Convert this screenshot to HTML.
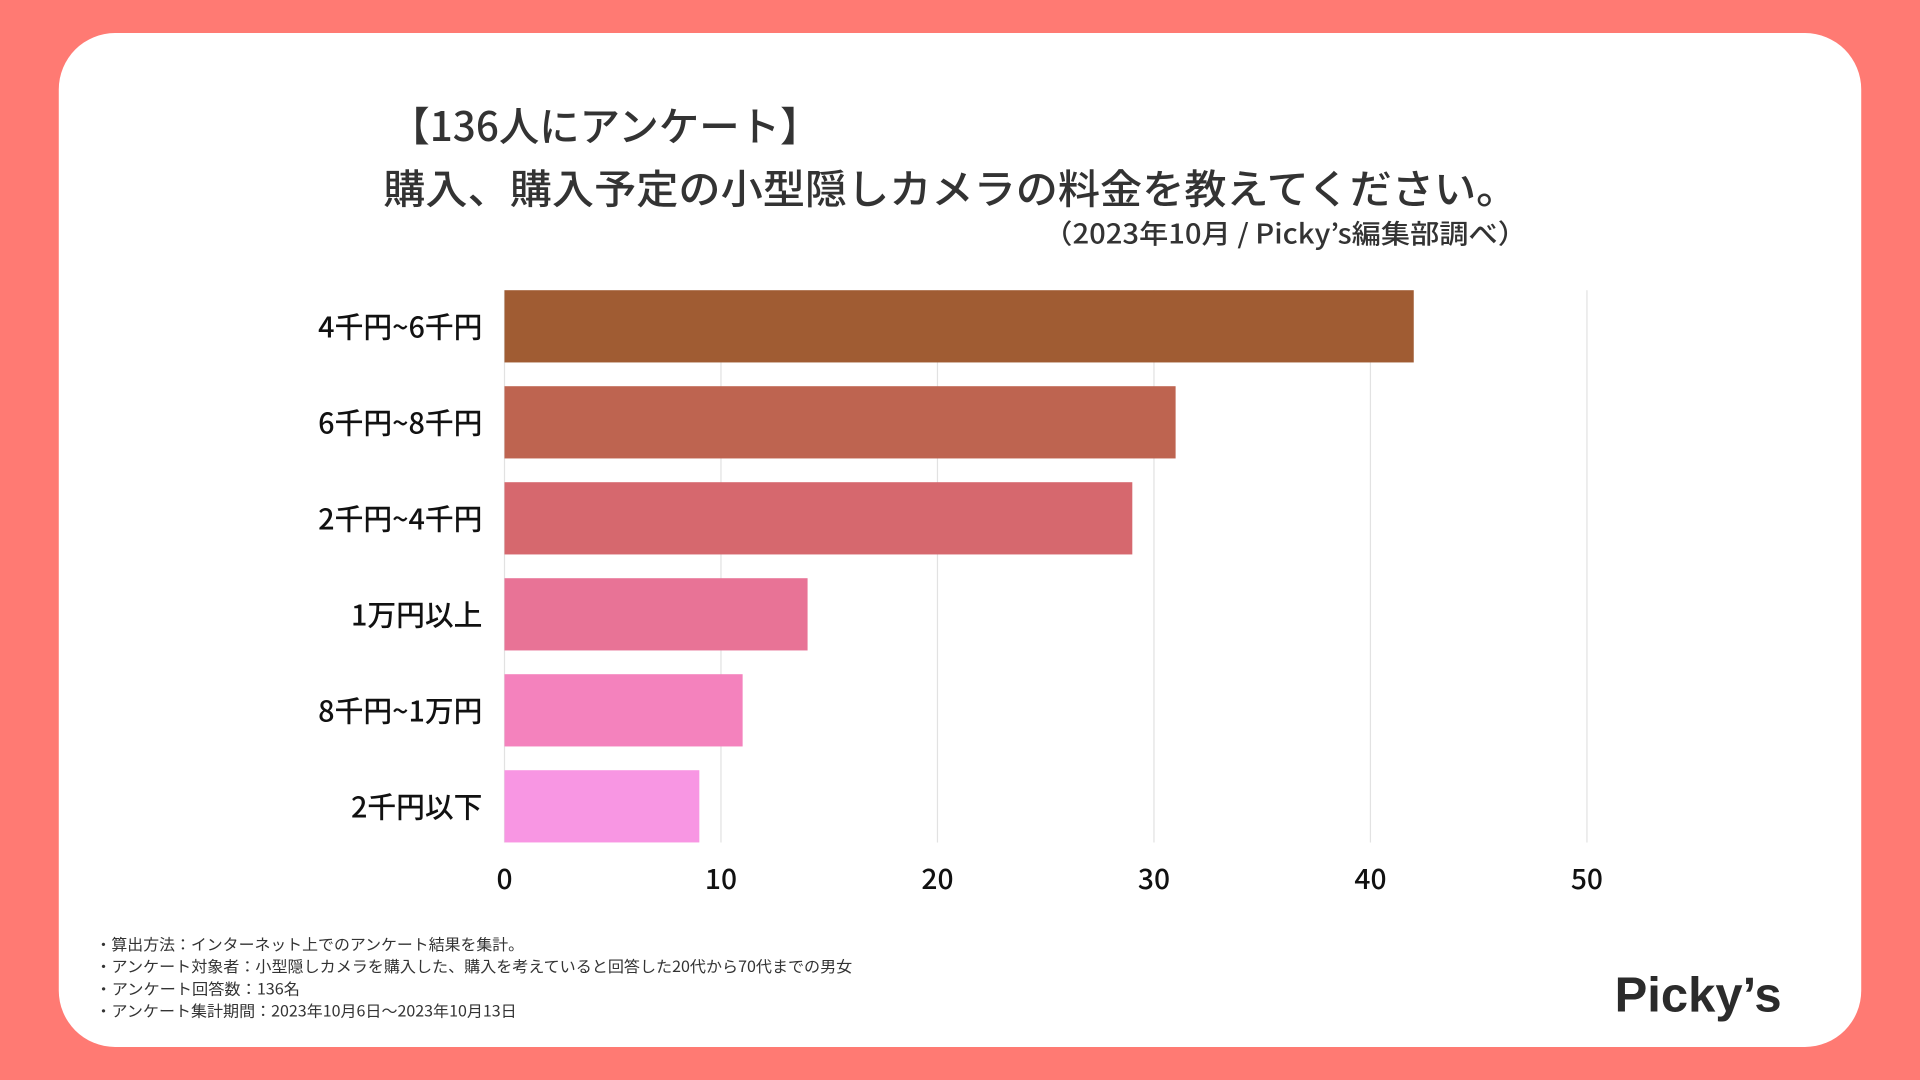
<!DOCTYPE html>
<html><head><meta charset="utf-8"><style>
html,body{margin:0;padding:0;width:1920px;height:1080px;overflow:hidden;background:#FF7A73;}
svg{display:block;font-family:"Noto Sans CJK JP","Liberation Sans",sans-serif;}
</style></head><body>
<svg id="chart" width="1920" height="1080" viewBox="0 0 1568 882">
<rect x="0" y="0" width="1568" height="882" fill="#FF7A73"/>
<rect x="48" y="27" width="1472" height="828" rx="46" fill="#fff"/>
<text x="318" y="115" font-size="33" font-weight="500" fill="#333" textLength="352" lengthAdjust="spacingAndGlyphs">【136人にアンケート】</text>
<text x="313" y="166" font-size="33" font-weight="500" fill="#333" textLength="927" lengthAdjust="spacingAndGlyphs">購入、購入予定の小型隠しカメラの料金を教えてください。</text>
<text x="852" y="199" font-size="22" font-weight="500" fill="#333" textLength="395" lengthAdjust="spacingAndGlyphs">（2023年10月 / Picky’s編集部調べ）</text>
<g id="grid"></g>
<g id="bars"></g>
<g id="labels"></g>
<g id="ticks"></g>
<g font-size="12.5" fill="#333">
<text x="78" y="776" textLength="350" lengthAdjust="spacingAndGlyphs">・算出方法：インターネット上でのアンケート結果を集計。</text>
<text x="78" y="794" textLength="618" lengthAdjust="spacingAndGlyphs">・アンケート対象者：小型隠しカメラを購入した、購入を考えていると回答した20代から70代までの男女</text>
<text x="78" y="812" textLength="167" lengthAdjust="spacingAndGlyphs">・アンケート回答数：136名</text>
<text x="78" y="830" textLength="344" lengthAdjust="spacingAndGlyphs">・アンケート集計期間：2023年10月6日〜2023年10月13日</text>
</g>
<text x="1455" y="826" font-size="40" font-weight="bold" fill="#2b2b2b" text-anchor="end" font-family="Liberation Sans, sans-serif">Picky’s</text>
</svg>
<script>
const categories=["4千円~6千円","6千円~8千円","2千円~4千円","1万円以上","8千円~1万円","2千円以下"];
const values=[42,31,29,14,11,9];
const tickValues=[0,10,20,30,40,50];
const colors=["#A05C33","#BE6450","#D6686E","#E87396","#F482BD","#F896E3"];
const NS="http://www.w3.org/2000/svg";
const x0=412,x1=1296,xmax=50,yTop=237,band=78.4,barH=59;
const xs=v=>x0+(x1-x0)*v/xmax;
const yb=i=>yTop+i*band;
function mk(t,a,p){const e=document.createElementNS(NS,t);for(const k in a)e.setAttribute(k,a[k]);p.appendChild(e);return e;}
const grid=document.getElementById('grid'),bars=document.getElementById('bars'),labels=document.getElementById('labels'),ticks=document.getElementById('ticks');
tickValues.forEach(v=>{
 const l=mk('line',{x1:xs(v),x2:xs(v),y1:yTop,y2:yb(categories.length-1)+barH,stroke:'#e2e2e2','stroke-width':1},grid);
 
 
 const t=mk('text',{x:xs(v),y:726,'font-size':23,'font-weight':500,fill:'#111','text-anchor':'middle'},ticks);
 t.textContent=v;
 
 
});
categories.forEach((c,i)=>{
 const r=mk('rect',{x:x0,y:yb(i),width:xs(values[i])-x0,height:barH,fill:colors[i]},bars);
 
 
 const t=mk('text',{x:394,y:yb(i)+barH/2+9,'font-size':23.5,'font-weight':500,fill:'#111','text-anchor':'end'},labels);
 t.textContent=c;
 
 
});
</script>
</body></html>
